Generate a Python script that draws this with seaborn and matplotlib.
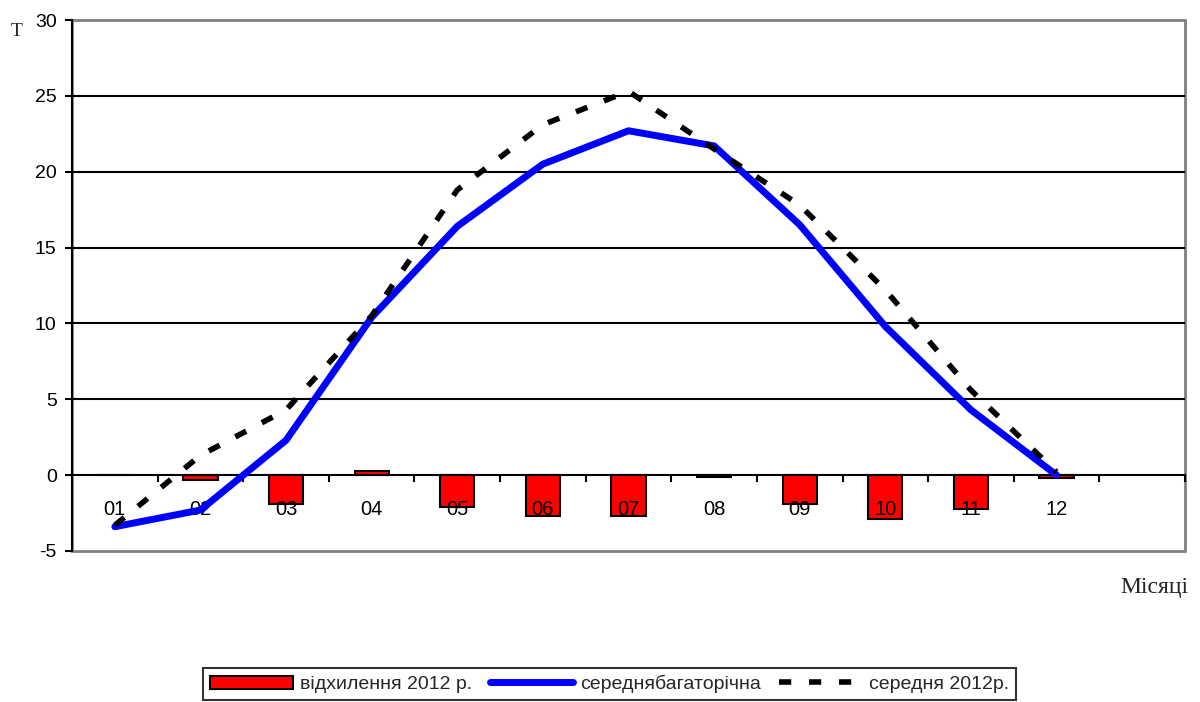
import numpy as np
import pandas as pd
import matplotlib
matplotlib.use("Agg")
import matplotlib.pyplot as plt
import matplotlib.patches as mpatches
from matplotlib.ticker import FixedLocator
import seaborn as sns

# Monthly air temperature: long-term mean, 2012 mean and the 2012 deviation
months = ["01", "02", "03", "04", "05", "06", "07", "08", "09", "10", "11", "12"]
norm_mean = [-3.4, -2.3, 2.3, 10.4, 16.4, 20.5, 22.7, 21.7, 16.5, 9.8, 4.3, 0.0]
mean_2012 = [-3.3, 1.3, 4.3, 10.5, 18.8, 23.1, 25.3, 21.5, 17.8, 12.2, 5.6, 0.2]
deviation_2012 = [0.0, -0.3, -1.9, 0.3, -2.1, -2.7, -2.7, -0.1, -1.9, -2.9, -2.2, -0.2]

label_dev = "відхилення 2012 р."
label_norm = "середнябагаторічна"
label_2012 = "середня 2012р."
y_ticks = [-5, 0, 5, 10, 15, 20, 25, 30]

df = pd.DataFrame({"month": months, "norm": norm_mean,
                   "y2012": mean_2012, "dev": deviation_2012})

sns.set_style("white")
plt.rcParams["font.family"] = ["Liberation Sans", "DejaVu Sans"]
plt.rcParams["axes.unicode_minus"] = False

fig = plt.figure(figsize=(12, 7.02), dpi=100)
ax = fig.add_axes([0.06, 0.2151, 0.9275, 0.7564])

sns.barplot(data=df, x="month", y="dev", color="#FF0000", saturation=1,
            edgecolor="black", linewidth=1.5, width=0.4, label=label_dev,
            ax=ax, zorder=1)
sns.lineplot(data=df, x="month", y="norm", color="#0000FF", linewidth=5,
             label=label_norm, ax=ax, zorder=3)
sns.lineplot(data=df, x="month", y="y2012", color="black", linewidth=4,
             linestyle=(0, (2.2, 3.2)), label=label_2012, ax=ax, zorder=4)

# month labels and ticks sit on top of the bars
ax.set_axisbelow(False)

# axes limits: twelve months plus one empty slot on the right
ax.set_xlim(-0.5, len(months) + 0.5)
ax.set_ylim(y_ticks[0], y_ticks[-1])

# x axis runs through zero, labels under it, small ticks between months
ax.spines["bottom"].set_position(("data", 0))
ax.spines["bottom"].set_color("black")
ax.spines["bottom"].set_linewidth(1.5)
ax.spines["left"].set_color("black")
ax.spines["left"].set_linewidth(1.5)
ax.spines["top"].set_visible(False)
ax.spines["right"].set_visible(False)

ax.xaxis.set_major_locator(FixedLocator(range(len(months))))
ax.set_xticklabels(months)
ax.xaxis.set_minor_locator(FixedLocator(np.arange(0.5, len(months) + 1, 1.0)))
ax.tick_params(axis="x", which="major", length=0, pad=18, labelsize=14.5,
               colors="black")
ax.tick_params(axis="x", which="minor", length=5, width=1.5, direction="out",
               color="black", bottom=True)

ax.yaxis.set_major_locator(FixedLocator(y_ticks))
ax.set_yticklabels([str(v) for v in y_ticks])
ax.tick_params(axis="y", which="major", length=5, width=1.5, direction="out",
               pad=6, labelsize=14, colors="black", left=True)

ax.set_xlabel("")
ax.set_ylabel("")

# horizontal gridlines (not at the frame edges or at zero)
ax.yaxis.grid(True, color="black", linewidth=1.5, zorder=0.8)
ax.xaxis.grid(False)
for tick, v in zip(ax.yaxis.get_major_ticks(), y_ticks):
    if v in (y_ticks[0], 0, y_ticks[-1]):
        tick.gridline.set_visible(False)

# grey plot-area frame
ax.add_patch(mpatches.Rectangle((0, 0), 1, 1, transform=ax.transAxes,
                                fill=False, edgecolor="#808080", linewidth=2,
                                clip_on=False, zorder=0.5))

# axis captions
fig.text(17 / 1200, 1 - 31 / 702, "T", family=["Liberation Serif"],
         fontsize=14, ha="center", va="center")
fig.text(1188 / 1200, 1 - 593 / 702, "Місяці", family=["Liberation Serif"],
         fontsize=17, ha="right", va="baseline")

handles, labels = ax.get_legend_handles_labels()
order = [labels.index(l) for l in (label_dev, label_norm, label_2012)]
leg = ax.legend([handles[i] for i in order], [labels[i] for i in order],
                loc="upper center", bbox_to_anchor=(609.5 / 1200, 1 - 668 / 702),
                bbox_transform=fig.transFigure, ncol=3, fontsize=14,
                frameon=True, fancybox=False, shadow=False,
                handlelength=4.3, handletextpad=0.35, columnspacing=0.9,
                borderpad=0.35, borderaxespad=0)
leg.get_frame().set_edgecolor("black")
leg.get_frame().set_linewidth(1.5)

fig.savefig("out.png", dpi=100)
